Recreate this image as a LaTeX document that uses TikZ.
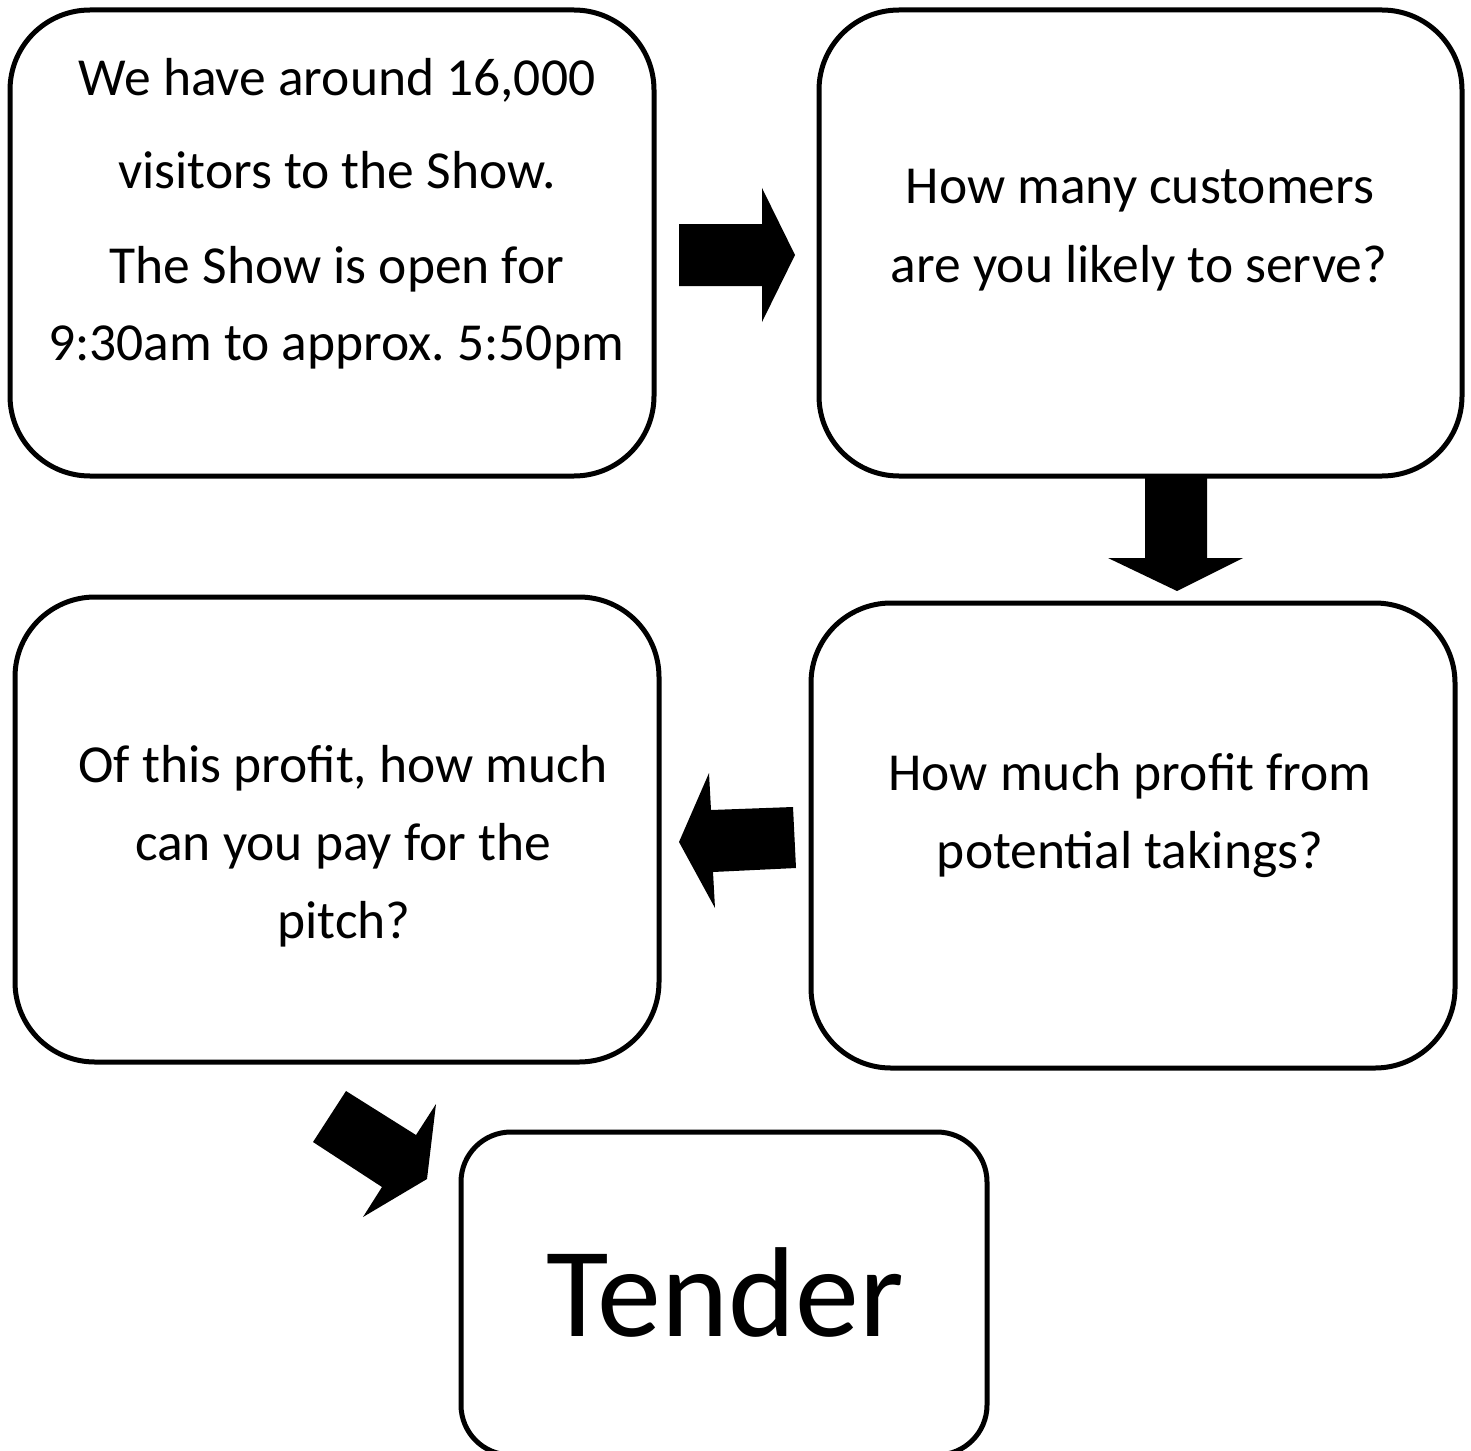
\documentclass[tikz,border=0pt]{standalone}
\usepackage{fontspec}
\setmainfont{Carlito}
\frenchspacing
\begin{document}
\begin{tikzpicture}[x=1pt,y=-1pt,
  box/.style={draw=black,line width=5pt,rounded corners=80pt,fill=white,inner sep=0pt},
  txt/.style={anchor=base,inner sep=0pt,font=\fontsize{53.5}{64}\selectfont},
  big/.style={anchor=base,inner sep=0pt,font=\fontsize{128}{150}\selectfont},
  blockarrow/.style={fill=black}]
\useasboundingbox (0,0) rectangle (1471,1450);
\fill[white] (0,0) rectangle (1471,1450);
% boxes
\node[box,minimum width=644pt,minimum height=466pt] (b1) at (332,243) {};
\node[box,minimum width=643pt,minimum height=466pt] (b2) at (1140.5,243) {};
\node[box,minimum width=644pt,minimum height=465pt] (b3) at (1133,835.5) {};
\node[box,minimum width=644pt,minimum height=465pt] (b4) at (337,829.5) {};
\node[box,rounded corners=50pt,minimum width=526pt,minimum height=323pt] (b5) at (724,1293.5) {};
% texts
\node[txt] (t1a) at (337,96) {We have around 16,000};
\node[txt] (t1b) at (337,189) {visitors to the Show.};
\node[txt] (t1c) at (337,283) {The Show is open for};
\node[txt] (t1d) at (336,360) {9:30am to approx. 5:50pm};
\node[txt] (t2a) at (1140,204) {How many customers};
\node[txt] (t2b) at (1139,282) {are you likely to serve?};
\node[txt] (t3a) at (1130,790) {How much profit from};
\node[txt] (t3b) at (1130,868) {potential takings?};
\node[txt] (t4a) at (343,782) {Of this profit, how much};
\node[txt] (t4b) at (343,860) {can you pay for the};
\node[txt] (t4c) at (344,938) {pitch?};
\node[big] (t5) at (725,1336) {Tender};
% block arrows
\fill[blockarrow] (679,224) -- (762,224) -- (762,188) -- (795,255) -- (762,322) -- (762,286) -- (679,286) -- cycle;
\fill[blockarrow] (1145,476) -- (1207,476) -- (1207,558) -- (1243,558) -- (1177,591) -- (1108,558) -- (1145,558) -- cycle;
\fill[blockarrow] (793,807) -- (711,810) -- (709,773) -- (679,842) -- (715,908) -- (713,872) -- (796,868) -- cycle;
\fill[blockarrow] (346,1091) -- (416,1135) -- (436,1104) -- (427,1179) -- (363,1217) -- (382,1187) -- (313,1142) -- cycle;
\end{tikzpicture}
\end{document}
